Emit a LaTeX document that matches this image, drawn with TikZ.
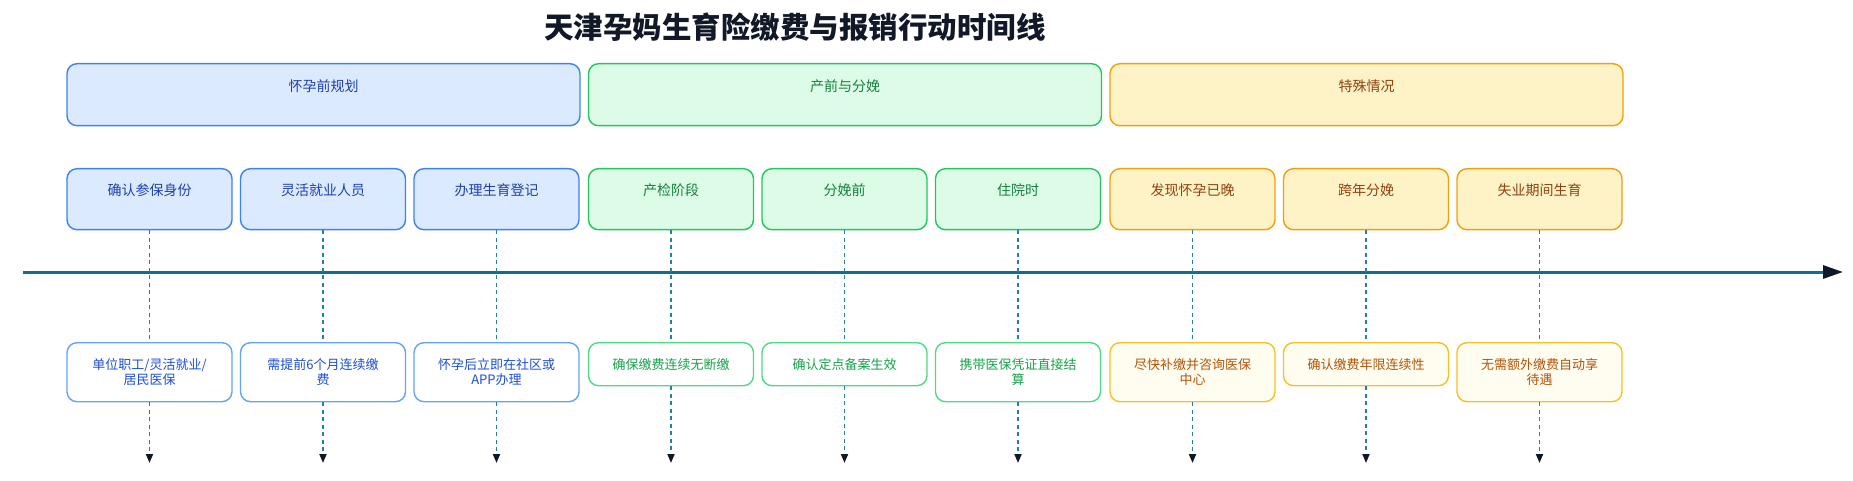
\documentclass[tikz,border=0pt]{standalone}
\usepackage{fontspec}
\setmainfont{Noto Sans CJK SC}
\usepackage{tikz}
\usetikzlibrary{arrows.meta}

\definecolor{titlecol}{HTML}{111827}
\definecolor{axiscol}{HTML}{126E8E}
\definecolor{dashcol}{HTML}{2382A3}
\definecolor{tipcol}{HTML}{0F172A}
% blue
\definecolor{bfill}{HTML}{DBEAFE}
\definecolor{bline}{HTML}{3B82F6}
\definecolor{btext}{HTML}{1E40AF}
\definecolor{bline2}{HTML}{60A5FA}
\definecolor{btext2}{HTML}{1D4ED8}
% green
\definecolor{gfill}{HTML}{DCFCE7}
\definecolor{gline}{HTML}{22C55E}
\definecolor{gtext}{HTML}{15803D}
\definecolor{gline2}{HTML}{4ADE80}
\definecolor{gtext2}{HTML}{16A34A}
% yellow
\definecolor{yfill}{HTML}{FEF3C7}
\definecolor{yline}{HTML}{F59E0B}
\definecolor{ytext}{HTML}{92400E}
\definecolor{yline2}{HTML}{FBBF24}
\definecolor{yfill2}{HTML}{FFFDF0}
\definecolor{ytext2}{HTML}{B45309}

\tikzset{
  phase/.style={draw, rounded corners=10pt, line width=1.4pt, anchor=north,
    minimum width=513pt, inner sep=0pt, text height=28pt, text depth=34pt,
    font=\fontsize{14}{16}\selectfont},
  stage/.style={draw, rounded corners=10pt, line width=1.4pt, anchor=north,
    minimum width=165pt, inner sep=0pt, text height=27pt, text depth=34pt,
    font=\fontsize{14}{16}\selectfont},
  tipbox/.style={draw, rounded corners=10pt, line width=1.4pt, anchor=north,
    minimum width=165pt, minimum height=43pt, inner sep=0pt, align=center,
    font=\fontsize{13}{15}\selectfont},
  tallbox/.style={tipbox, minimum height=59pt},
  blue/.style={fill=bfill, draw=bline, text=btext},
  blue2/.style={fill=white, draw=bline2, text=btext2},
  green/.style={fill=gfill, draw=gline, text=gtext},
  green2/.style={fill=white, draw=gline2, text=gtext2},
  yellow/.style={fill=yfill, draw=yline, text=ytext},
  yellow2/.style={fill=yfill2, draw=yline2, text=ytext2},
  link/.style={draw=dashcol, line width=1.8pt, dash pattern=on 4pt off 3.5pt},
  linkend/.style={link, -{Triangle[length=9pt,width=7pt,color=tipcol]}}
}

\begin{document}
\begin{tikzpicture}[x=1pt,y=-1pt]
\useasboundingbox (0,0) rectangle (1853,481);

% Title
\node [text=titlecol, font=\fontsize{29.5}{33}\selectfont\bfseries] (title) at (795,27)
  {天津孕妈生育险缴费与报销行动时间线};

% Phases
\node [phase, blue]   (ph1) at (323.5,63) {怀孕前规划};
\node [phase, green]  (ph2) at (845,63)   {产前与分娩};
\node [phase, yellow] (ph3) at (1366.5,63) {特殊情况};

% Stages
\node [stage, blue]   (s1) at (149.5,168) {确认参保身份};
\node [stage, blue]   (s2) at (323,168)   {灵活就业人员};
\node [stage, blue]   (s3) at (496.5,168) {办理生育登记};
\node [stage, green]  (s4) at (671,168)   {产检阶段};
\node [stage, green]  (s5) at (844.5,168) {分娩前};
\node [stage, green]  (s6) at (1018,168)  {住院时};
\node [stage, yellow] (s7) at (1192.5,168) {发现怀孕已晚};
\node [stage, yellow] (s8) at (1366,168)  {跨年分娩};
\node [stage, yellow] (s9) at (1539.5,168) {失业期间生育};

% Actions
\node [tallbox, blue2]   (a1) at (149.5,342) {单位职工/灵活就业/\\居民医保};
\node [tallbox, blue2]   (a2) at (323,342)   {需提前6个月连续缴\\费};
\node [tallbox, blue2]   (a3) at (496.5,342) {怀孕后立即在社区或\\APP办理};
\node [tipbox, green2]   (a4) at (671,342)   {确保缴费连续无断缴};
\node [tipbox, green2]   (a5) at (844.5,342) {确认定点备案生效};
\node [tallbox, green2]  (a6) at (1018,342)  {携带医保凭证直接结\\算};
\node [tallbox, yellow2] (a7) at (1192.5,342) {尽快补缴并咨询医保\\中心};
\node [tipbox, yellow2]  (a8) at (1366,342)  {确认缴费年限连续性};
\node [tallbox, yellow2] (a9) at (1539.5,342) {无需额外缴费自动享\\待遇};

% Time axis
\coordinate (t0) at (23,272);
\coordinate (t1) at (1843,272);
\draw [axiscol, line width=3pt, -{Triangle[length=20pt,width=13pt,color=tipcol]}] (t0) -- (t1);

% Links
\coordinate (e1) at (149.5,463);
\coordinate (e2) at (323,463);
\coordinate (e3) at (496.5,463);
\coordinate (e4) at (671,463);
\coordinate (e5) at (844.5,463);
\coordinate (e6) at (1018,463);
\coordinate (e7) at (1192.5,463);
\coordinate (e8) at (1366,463);
\coordinate (e9) at (1539.5,463);

\draw [link] (s1.south) -- (a1.north);
\draw [link] (s2.south) -- (a2.north);
\draw [link] (s3.south) -- (a3.north);
\draw [link] (s4.south) -- (a4.north);
\draw [link] (s5.south) -- (a5.north);
\draw [link] (s6.south) -- (a6.north);
\draw [link] (s7.south) -- (a7.north);
\draw [link] (s8.south) -- (a8.north);
\draw [link] (s9.south) -- (a9.north);

\draw [linkend] (a1.south) -- (e1);
\draw [linkend] (a2.south) -- (e2);
\draw [linkend] (a3.south) -- (e3);
\draw [linkend] (a4.south) -- (e4);
\draw [linkend] (a5.south) -- (e5);
\draw [linkend] (a6.south) -- (e6);
\draw [linkend] (a7.south) -- (e7);
\draw [linkend] (a8.south) -- (e8);
\draw [linkend] (a9.south) -- (e9);

\end{tikzpicture}
\end{document}
